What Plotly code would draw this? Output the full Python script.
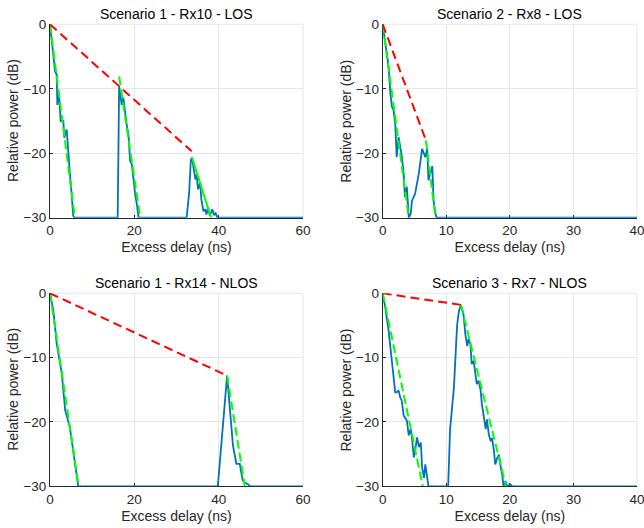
import plotly.graph_objects as go

# ---------------- data ----------------
titles = ["Scenario 1 - Rx10 - LOS", "Scenario 2 - Rx8 - LOS",
          "Scenario 1 - Rx14 - NLOS", "Scenario 3 - Rx7 - NLOS"]
x_label = "Excess delay (ns)"
y_label = "Relative power (dB)"
x_max = [60, 40, 60, 40]
x_dtick = [20, 10, 20, 10]

# Panel 1 : Scenario 1 - Rx10 - LOS
p1_delay = [0, 0.63, 1.19, 1.58, 1.74, 2.13, 2.53, 3.16, 3.4, 3.95, 4.35, 4.74, 5.14, 5.5, 5.8,
            16.05, 16.4, 16.6, 17.0, 17.4, 17.8, 18.2, 18.6, 19.0, 19.4, 19.8, 20.2, 20.6, 21.0,
            32.4, 33.0, 33.4, 33.7, 34.1, 34.5, 34.8, 35.1, 35.6, 35.9, 36.4, 36.8, 37.1, 37.5,
            37.9, 38.5, 38.9, 39.3, 39.7, 60]
p1_power = [0, -3.7, -7.3, -7.8, -12.5, -10.7, -15.0, -15.0, -17.6, -16.3, -20.7, -23.3, -26.4, -29.7, -30,
            -30, -9.6, -10.4, -12.5, -11.4, -14.0, -15.6, -17.1, -21.2, -21.7, -24.3, -26.4, -27.9, -30,
            -30, -26.1, -21.0, -20.7, -22.5, -24.1, -23.3, -25.6, -24.6, -27.2, -29.0, -28.7, -29.5, -28.4,
            -29.7, -28.7, -29.6, -29.3, -30, -30]
p1_cluster_fits = [([0, 5.9], [0, -30], "dash"), ([16.4, 21.4], [-8.1, -30], "dash"),
                   ([33.7, 38.2], [-20.7, -30], "solid")]
p1_envelope = ([0, 33.6], [0, -19.7])

# Panel 2 : Scenario 2 - Rx8 - LOS
p2_delay = [0, 0.41, 0.67, 0.93, 1.2, 1.45, 1.7, 1.97, 2.2, 2.5, 2.76, 3.0, 3.3, 3.5, 3.8, 4.1, 4.4,
            4.6, 5.1, 5.7, 6.2, 6.7, 7.0, 7.2, 7.8, 8.0, 8.3, 8.5, 40]
p2_power = [0, -3.0, -5.3, -6.6, -10.7, -12.8, -13.3, -15.4, -20.6, -17.5, -19.0, -20.4, -23.2, -26.8,
            -25.2, -30, -29.4, -27.4, -26.3, -23.0, -19.3, -20.6, -19.3, -24.2, -22.0, -27.3, -29.4, -30, -30]
p2_cluster_fits = [([0, 4.1], [0, -30], "dash"), ([6.8, 8.3], [-18, -30], "dash")]
p2_envelope = ([0, 6.8], [0, -18])

# Panel 3 : Scenario 1 - Rx14 - NLOS
p3_delay = [0, 0.8, 1.6, 2.8, 3.6, 4.7, 6.7, 39.8, 42.0, 43.4, 44.2, 45.0, 45.7, 46.2, 47.0, 47.5, 60]
p3_power = [0, -2.7, -7.9, -12.5, -18.2, -20.8, -30, -30, -12.8, -23.7, -26.5, -26.5, -29.1, -29.4, -29.7, -30, -30]
p3_cluster_fits = [([0, 6.8], [0, -30], "dash"), ([42.0, 46.2], [-12.8, -30], "dash")]
p3_envelope = ([0, 42.0], [0, -12.8])

# Panel 4 : Scenario 3 - Rx7 - NLOS
p4_delay = [0, 0.4, 0.93, 1.45, 1.7, 1.97, 2.2, 2.5, 2.76, 3.0, 3.3, 3.5, 3.8, 4.1, 4.4, 4.6, 4.9, 5.1,
            5.4, 5.7, 6.0, 6.2, 6.5, 6.7, 7.0, 7.2,
            10.3, 10.6, 11.2, 11.7, 12.0, 12.3, 12.7, 13.0, 13.3, 13.5, 13.8, 14.0, 14.3, 14.6, 14.8,
            15.1, 15.4, 15.6, 15.9, 16.2, 16.4, 16.7, 17.0, 17.2, 17.5, 17.7, 18.0, 18.3, 18.5, 18.8,
            19.0, 19.3, 19.6, 20.1, 20.4, 40]
p4_power = [0, -2.2, -5.8, -11.0, -12.5, -15.4, -15.4, -15.1, -16.2, -16.7, -19.0, -19.3, -19.8, -22.1,
            -21.1, -22.4, -25.5, -24.5, -22.4, -23.9, -23.2, -27.1, -28.7, -26.6, -29.1, -30,
            -30, -21.1, -14.7, -5.0, -2.7, -1.8, -3.2, -6.4, -8.2, -7.1, -7.9, -11.0, -10.5, -12.5, -14.1,
            -13.6, -15.1, -17.2, -19.3, -21.1, -19.6, -22.0, -23.0, -22.5, -24.5, -26.6, -25.6, -25.1,
            -26.6, -28.2, -30, -29.2, -30, -29.7, -30, -30]
p4_cluster_fits = [([0, 6.3], [0, -30], "dash"), ([12.3, 19.4], [-1.8, -30], "dash")]
p4_envelope = ([0, 12.3], [0, -1.8])

panels = [
    (p1_delay, p1_power, p1_cluster_fits, p1_envelope),
    (p2_delay, p2_power, p2_cluster_fits, p2_envelope),
    (p3_delay, p3_power, p3_cluster_fits, p3_envelope),
    (p4_delay, p4_power, p4_cluster_fits, p4_envelope),
]

# ---------------- layout ----------------
W, H = 644, 528
# plot-area pixel boxes (left, right, top, bottom)
boxes = [(50, 303, 24.3, 217.7), (382.7, 637, 24.3, 217.7),
         (50, 303, 293.3, 486.3), (382.7, 637, 293.3, 486.3)]

FONT = "Liberation Sans, Arial, Helvetica, sans-serif"
TXT = "#262626"
BLUE = "#0072BD"
RED = "#FF0000"
GREEN = "#00FF00"

fig = go.Figure()
annotations = []
for i, (delay, power, fits, env) in enumerate(panels):
    n = i + 1
    xa = "x" if n == 1 else f"x{n}"
    ya = "y" if n == 1 else f"y{n}"
    fig.add_trace(go.Scatter(x=delay, y=power, mode="lines", xaxis=xa, yaxis=ya,
                             line=dict(color=BLUE, width=1.8), showlegend=False))
    for fx, fy, style in fits:
        fig.add_trace(go.Scatter(x=fx, y=fy, mode="lines", xaxis=xa, yaxis=ya,
                                 line=dict(color=GREEN, width=2,
                                           dash="9px,4px" if style == "dash" else "solid"),
                                 showlegend=False))
    fig.add_trace(go.Scatter(x=env[0], y=env[1], mode="lines", xaxis=xa, yaxis=ya,
                             line=dict(color=RED, width=2, dash="9px,5px"), showlegend=False))

    l, r, t, b = boxes[i]
    xd = [l / W, r / W]
    yd = [1 - b / H, 1 - t / H]
    axis_common = dict(showgrid=True, gridcolor="#e6e6e6", gridwidth=1, zeroline=False,
                       showline=True, linecolor="#262626", linewidth=1,
                       ticks="inside", ticklen=3, tickcolor="#262626",
                       tickfont=dict(family=FONT, size=13.5, color=TXT),
                       ticklabeloverflow="allow",
                       layer="below traces", mirror=False, automargin=False)
    fig.layout[f"xaxis{'' if n == 1 else n}"] = dict(
        axis_common, domain=xd, anchor=ya, range=[0, x_max[i]], dtick=x_dtick[i], tick0=0,
        title=dict(text=x_label, font=dict(family=FONT, size=14, color=TXT), standoff=5))
    fig.layout[f"yaxis{'' if n == 1 else n}"] = dict(
        axis_common, domain=yd, anchor=xa, range=[-30, 0], dtick=10, tick0=0)
    annotations.append(dict(text=titles[i], x=(l + r) / 2 / W, y=1 - (t - 10) / H,
                            xref="paper", yref="paper", xanchor="center", yanchor="middle",
                            showarrow=False, font=dict(family=FONT, size=14, color="#000000")))
    annotations.append(dict(text=y_label, x=(l - 37) / W, y=1 - (t + b) / 2 / H,
                            xref="paper", yref="paper", xanchor="center", yanchor="middle",
                            textangle=-90, showarrow=False,
                            font=dict(family=FONT, size=14, color=TXT)))

# frame lines on the top and right (light grey, like the grid)
shapes = []
for i in range(4):
    n = i + 1
    xa = "x" if n == 1 else f"x{n}"
    ya = "y" if n == 1 else f"y{n}"
    shapes.append(dict(type="line", xref=f"{xa} domain", yref=f"{ya} domain",
                       x0=0, x1=1, y0=1, y1=1, line=dict(color="#e6e6e6", width=1), layer="below"))
    shapes.append(dict(type="line", xref=f"{xa} domain", yref=f"{ya} domain",
                       x0=1, x1=1, y0=0, y1=1, line=dict(color="#e6e6e6", width=1), layer="below"))

fig.update_layout(width=W, height=H, margin=dict(l=0, r=0, t=0, b=0, autoexpand=False),
                  paper_bgcolor="white", plot_bgcolor="white",
                  annotations=annotations, shapes=shapes,
                  font=dict(family=FONT, color=TXT))
fig.write_html("out.html")
